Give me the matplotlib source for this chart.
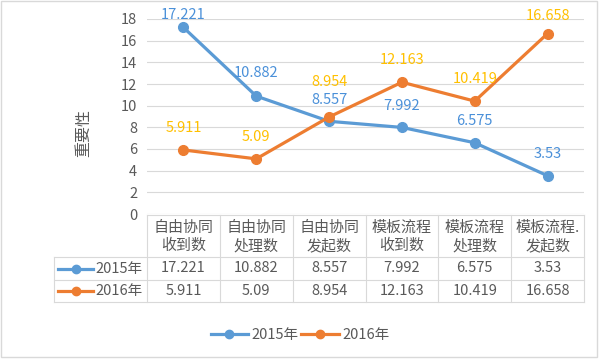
import matplotlib
matplotlib.use('Agg')
import matplotlib.pyplot as plt
from matplotlib.lines import Line2D
from matplotlib.patches import Rectangle

plt.rcParams['font.family'] = ['Noto Sans CJK SC', 'DejaVu Sans']
plt.rcParams['font.size'] = 10

categories = ['自由协同\n收到数', '自由协同\n处理数', '自由协同\n发起数',
              '模板流程\n收到数', '模板流程\n处理数', '模板流程.\n发起数']
series = ['2015年', '2016年']
v2015 = [17.221, 10.882, 8.557, 7.992, 6.575, 3.53]
v2016 = [5.911, 5.09, 8.954, 12.163, 10.419, 16.658]
yticks = [0, 2, 4, 6, 8, 10, 12, 14, 16, 18]

line_colors = ['#5B9BD5', '#ED7D31']
label_colors = ['#4A90D9', '#FFC000']
text_col = '#595959'
grid_col = '#D9D9D9'

# label offsets above the point (pixels); most are 22
offsets = [[12, 23, 21, 21, 22, 22],
           [22, 22, 35, 22, 22, 18]]

W, H = 600, 361
fig = plt.figure(figsize=(6, 3.61), dpi=100)

x0, x1 = 147, 584          # column edges (pixels)
y_top, y_bot = 19, 214     # y=18 and y=0
ax = fig.add_axes([x0 / W, 1 - y_bot / H, (x1 - x0) / W, (y_bot - y_top) / H])
ax.set_facecolor('none')

n = len(categories)
xs = list(range(n))
for k, vals in enumerate([v2015, v2016]):
    ax.plot(xs, vals, color=line_colors[k], lw=2.3, marker='o', ms=7,
            clip_on=False, zorder=3, label=series[k])
    for i, v in enumerate(vals):
        ax.annotate(str(v), (i, v), xytext=(0, offsets[k][i] * 0.72),
                    textcoords='offset points', ha='center', va='center',
                    color=label_colors[k], fontsize=10.5)

ax.set_xlim(-0.5, n - 0.5)
ax.set_ylim(0, 18)
ax.set_yticks(yticks)
ax.set_xticks([])
ax.grid(axis='y', color=grid_col, lw=0.8)
ax.set_axisbelow(True)
for s in ax.spines.values():
    s.set_visible(False)
ax.tick_params(axis='y', length=0, pad=7, labelcolor=text_col, labelsize=10.5)
ax.set_ylabel('重要性', color=text_col, fontsize=11.5)
ax.yaxis.set_label_coords(-0.126, 0.415)

# data table under the plot, drawn in pixel space
tab = fig.add_axes([0, 0, 1, 1])
tab.set_xlim(0, W)
tab.set_ylim(H, 0)
tab.axis('off')

t_left = 54
rows_y = [215, 257, 280, 302]
cw = (x1 - x0) / n
edges = [x0 + cw * i for i in range(n + 1)]

tab.plot([x0, x1], [rows_y[0]] * 2, color=grid_col, lw=0.8)
for yy in rows_y[1:]:
    tab.plot([t_left, x1], [yy, yy], color=grid_col, lw=0.8)
tab.plot([t_left, t_left], [rows_y[1], rows_y[3]], color=grid_col, lw=0.8)
for e in edges:
    tab.plot([e, e], [rows_y[0], rows_y[3]], color=grid_col, lw=0.8)

for i, c in enumerate(categories):
    tab.text((edges[i] + edges[i + 1]) / 2, (rows_y[0] + rows_y[1]) / 2 + 1, c,
             ha='center', va='center', color=text_col, fontsize=10.8,
             linespacing=1.3)

for k, vals in enumerate([v2015, v2016]):
    yc = (rows_y[k + 1] + rows_y[k + 2]) / 2
    tab.plot([58, 93], [yc, yc], color=line_colors[k], lw=2.3)
    tab.plot([75.5], [yc], 'o', color=line_colors[k], ms=6)
    tab.text(143, yc, series[k], ha='right', va='center', color=text_col, fontsize=10.5)
    for i, v in enumerate(vals):
        tab.text((edges[i] + edges[i + 1]) / 2, yc, str(v), ha='center',
                 va='center', color=text_col, fontsize=10.5)

# outer frame
tab.add_patch(Rectangle((1, 1), 596, 356, fill=False, ec=grid_col, lw=1))

handles = [Line2D([], [], color=line_colors[k], lw=2.3, marker='o', ms=6)
           for k in range(2)]
fig.legend(handles, series, loc='center', bbox_to_anchor=(0.5, 1 - 335 / H),
           ncol=2, frameon=False, handlelength=2.6, columnspacing=0.2,
           handletextpad=0.2, labelcolor=text_col, fontsize=10.5)

fig.savefig('out.png', dpi=100)
